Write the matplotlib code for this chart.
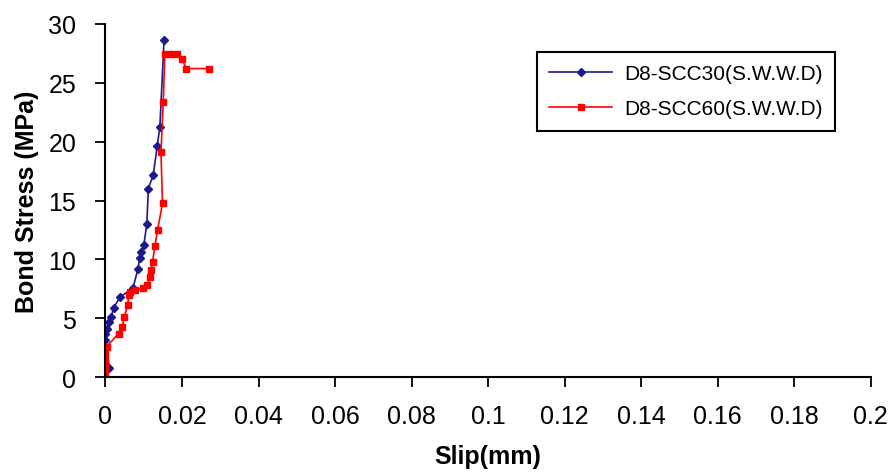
import matplotlib.pyplot as plt

# slip (mm) and bond stress (MPa)
slip_30 = [0.0, 0.0010, 0.0, -0.0002, 0.0003, 0.0009, 0.0015, 0.0021, 0.0038,
           0.0072, 0.0085, 0.0089, 0.0094, 0.0100, 0.0108, 0.0112, 0.0125,
           0.0135, 0.0142, 0.0153]
stress_30 = [0.0, 0.8, 3.2, 3.7, 4.1, 4.7, 5.1, 5.9, 6.8,
             7.6, 9.2, 10.1, 10.6, 11.2, 13.0, 16.0, 17.2,
             19.6, 21.2, 28.6]

slip_60 = [0.0, 0.0, 0.0, 0.0, 0.0, 0.0003, 0.0034, 0.0044, 0.0049, 0.0058,
           0.0061, 0.0064, 0.0077, 0.0098, 0.0108, 0.0117, 0.0120, 0.0123,
           0.0129, 0.0136, 0.0149, 0.0145, 0.0151, 0.0155, 0.0170, 0.0186,
           0.0200, 0.0211, 0.0271]
stress_60 = [0.0, 0.6, 1.2, 1.8, 2.3, 2.6, 3.7, 4.3, 5.1, 6.1,
             7.0, 7.2, 7.4, 7.55, 7.8, 8.5, 9.1, 9.8,
             11.1, 12.5, 14.75, 19.1, 23.4, 27.4, 27.4, 27.4,
             27.0, 26.2, 26.2]

plt.rcParams['font.family'] = ['Liberation Sans', 'DejaVu Sans']

fig = plt.figure(figsize=(8.94, 4.77), dpi=100)
ax = fig.add_axes([0.118, 0.207, 0.856, 0.741])

ax.plot(slip_30, stress_30, color='#1a1a8c', marker='D', markersize=4.5,
        linewidth=1.2, label='D8-SCC30(S.W.W.D)')
ax.plot(slip_60, stress_60, color='#ff0000', marker='s', markersize=5,
        linewidth=1.2, label='D8-SCC60(S.W.W.D)')

ax.set_xlim(0, 0.2)
ax.set_ylim(0, 30)
ax.set_xticks([0, 0.02, 0.04, 0.06, 0.08, 0.1, 0.12, 0.14, 0.16, 0.18, 0.2])
ax.set_xticklabels(['0', '0.02', '0.04', '0.06', '0.08', '0.1', '0.12',
                    '0.14', '0.16', '0.18', '0.2'])
ax.set_yticks(range(0, 31, 5))

ax.spines['top'].set_visible(False)
ax.spines['right'].set_visible(False)
ax.spines['left'].set_linewidth(1.5)
ax.spines['bottom'].set_linewidth(1.5)
ax.tick_params(axis='both', direction='out', length=7, width=1.3,
               labelsize=18)
ax.tick_params(axis='x', pad=12)
ax.tick_params(axis='y', pad=14)

ax.set_xlabel('Slip(mm)', fontsize=18, fontweight='bold', labelpad=12)
ax.set_ylabel('Bond Stress (MPa)', fontsize=18, fontweight='bold', labelpad=7)

leg = ax.legend(loc='upper left', bbox_to_anchor=(0.55, 0.95), fontsize=15,
                fancybox=False, edgecolor='black', framealpha=1,
                handlelength=3.0, handletextpad=0.6, borderpad=0.6,
                labelspacing=0.75)
leg.get_frame().set_linewidth(1.5)

plt.savefig('out.png', dpi=100)
